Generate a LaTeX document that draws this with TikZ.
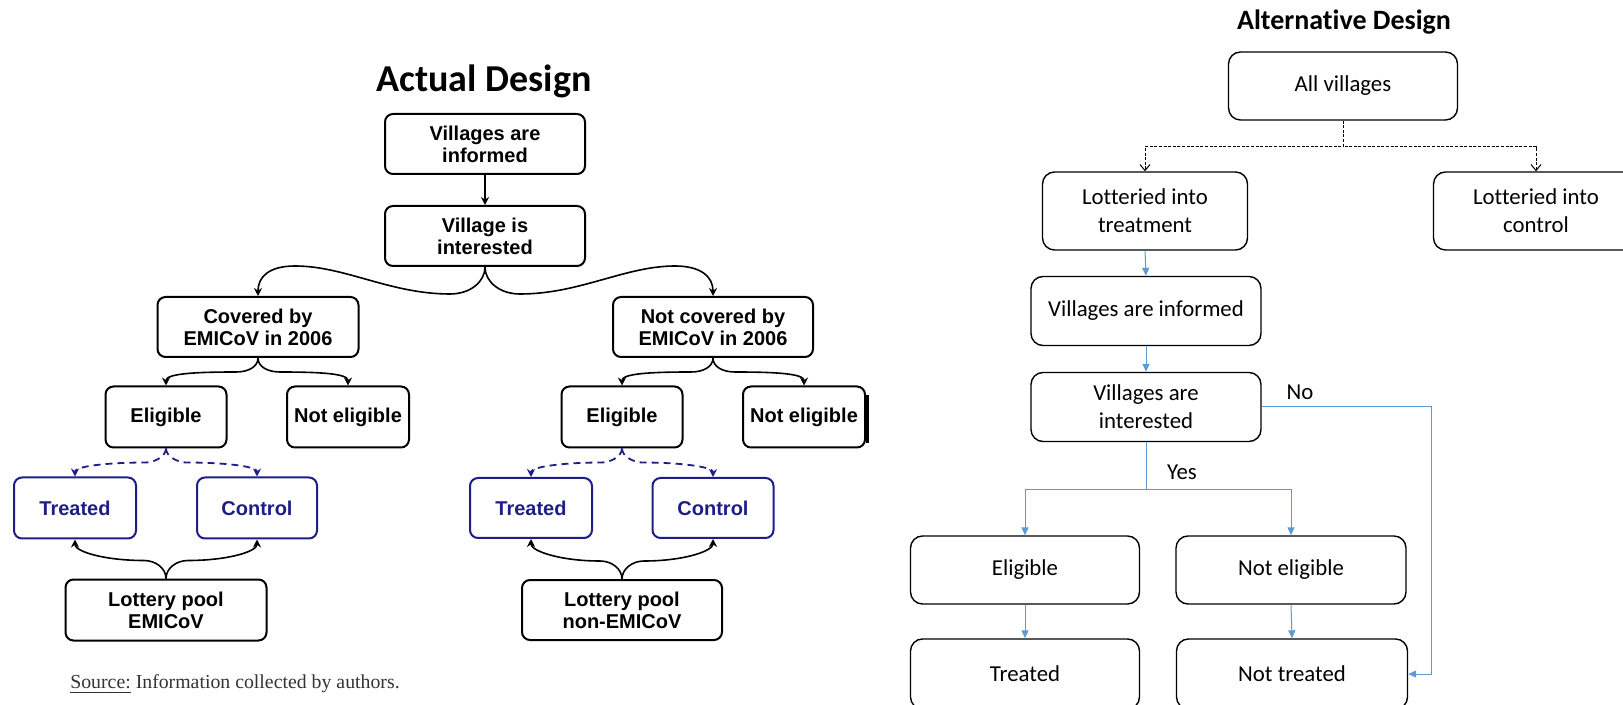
\documentclass[tikz,border=0pt]{standalone}
\usepackage{fontspec}
\usetikzlibrary{arrows.meta}
\newfontfamily\arialf{Liberation Sans}
\newfontfamily\calf{Carlito}[Ligatures=NoCommon]
\newfontfamily\srcf{Liberation Serif}
\definecolor{navyc}{RGB}{30,30,135}
\definecolor{altblue}{RGB}{91,155,213}
\tikzset{
  abox/.style={draw, rounded corners=4pt, line width=1pt, align=center, inner sep=0pt,
    minimum height=30pt, font=\arialf\bfseries\fontsize{10}{11}\selectfont},
  nbox/.style={abox, draw=navyc, text=navyc},
  bconn/.style={line width=0.8pt, -{Stealth[length=4pt,width=4pt]}},
  nconn/.style={line width=0.9pt, navyc, dash pattern=on 3.5pt off 2.5pt, -{Stealth[length=4pt,width=4pt]}},
  cbox/.style={draw, rounded corners=6pt, line width=0.7pt, align=center, inner sep=0pt,
    font=\calf\fontsize{11.4}{14}\selectfont},
  bluearr/.style={altblue, line width=0.5pt, -{Triangle[length=4pt,width=3.5pt]}},
  dasharr/.style={black, line width=0.5pt, dash pattern=on 1.5pt off 0.8pt, -{Straight Barb[length=3pt,width=5pt]}},
  lbl/.style={font=\calf\fontsize{11.4}{14}\selectfont, inner sep=0pt}
}
\begin{document}
\begin{tikzpicture}[x=0.5pt, y=-0.5pt]
\useasboundingbox (0,0) rectangle (1623,705);
% ---------------- Actual design ----------------
\node[font=\calf\bfseries\fontsize{19}{22}\selectfont] (t1) at (484,81) {Actual Design};
\node[abox, minimum width=100pt] (inf) at (485,144) {Villages are\\informed};
\node[abox, minimum width=100pt] (int) at (485,236) {Village is\\interested};
\node[abox, minimum width=100.5pt] (cov) at (258,327) {Covered by\\EMICoV in 2006};
\node[abox, minimum width=100pt] (ncov) at (713,327) {Not covered by\\EMICoV in 2006};
\node[abox, minimum width=60.5pt, minimum height=30.5pt] (elL) at (166,417) {Eligible};
\node[abox, minimum width=61pt, minimum height=30.5pt] (nelL) at (348,417) {Not eligible};
\node[abox, minimum width=60.5pt, minimum height=30.5pt] (elR) at (622,417) {Eligible};
\node[abox, minimum width=61pt, minimum height=30.5pt] (nelR) at (804,417) {Not eligible};
\node[nbox, minimum width=61pt, minimum height=30.5pt] (trL) at (75,508) {Treated};
\node[nbox, minimum width=60pt, minimum height=30.5pt] (ctL) at (257,508) {Control};
\node[nbox, minimum width=61pt, minimum height=30pt] (trR) at (531,508) {Treated};
\node[nbox, minimum width=60.5pt, minimum height=30pt] (ctR) at (713,508) {Control};
\node[abox, minimum width=100.5pt, minimum height=30.5pt] (lotL) at (166,610) {Lottery pool\\EMICoV};
\node[abox, minimum width=100pt, minimum height=30pt] (lotR) at (622,610) {Lottery pool\\non-EMICoV};
\draw[line width=1.5pt] (nelR.north east) ++(1,10) -- ++(0,48);
\node[font=\srcf\fontsize{9.9}{12}\selectfont, text=black!80] (src) at (235,684) {\underline{Source:} Information collected by authors.};
% connectors
\draw[bconn] (inf.south) -- (int.north);
\draw[bconn] (int.south) .. controls +(0,15) and +(20,0) .. ++(-35,27) .. controls +(-60,0) and +(50,0) .. ++(-155,-28) .. controls +(-25,0) and +(0,-20) .. (cov.north);
\draw[bconn] (int.south) .. controls +(0,15) and +(-20,0) .. ++(35,27) .. controls +(60,0) and +(-50,0) .. ++(155,-28) .. controls +(25,0) and +(0,-20) .. (ncov.north);
\draw[bconn] (cov.south) .. controls +(0,9) and +(12,0) .. ++(-22,14) .. controls +(-40,0) and +(0,-12) .. (elL.north);
\draw[bconn] (cov.south) .. controls +(0,9) and +(-12,0) .. ++(22,14) .. controls +(40,0) and +(0,-12) .. (nelL.north);
\draw[bconn] (ncov.south) .. controls +(0,9) and +(12,0) .. ++(-22,14) .. controls +(-40,0) and +(0,-12) .. (elR.north);
\draw[bconn] (ncov.south) .. controls +(0,9) and +(-12,0) .. ++(22,14) .. controls +(40,0) and +(0,-12) .. (nelR.north);
\draw[nconn] (elL.south) .. controls +(0,8) and +(8,0) .. ++(-20,14) .. controls +(-40,0) and +(0,-10) .. (trL.north);
\draw[nconn] (elL.south) .. controls +(0,8) and +(-8,0) .. ++(20,14) .. controls +(40,0) and +(0,-10) .. (ctL.north);
\draw[nconn] (elR.south) .. controls +(0,8) and +(8,0) .. ++(-20,14) .. controls +(-40,0) and +(0,-10) .. (trR.north);
\draw[nconn] (elR.south) .. controls +(0,8) and +(-8,0) .. ++(20,14) .. controls +(40,0) and +(0,-10) .. (ctR.north);
\draw[bconn] (lotL.north) .. controls +(0,-10) and +(12,0) .. ++(-22,-18) .. controls +(-40,0) and +(0,12) .. (trL.south);
\draw[bconn] (lotL.north) .. controls +(0,-10) and +(-12,0) .. ++(22,-18) .. controls +(40,0) and +(0,12) .. (ctL.south);
\draw[bconn] (lotR.north) .. controls +(0,-10) and +(12,0) .. ++(-22,-18) .. controls +(-40,0) and +(0,12) .. (trR.south);
\draw[bconn] (lotR.north) .. controls +(0,-10) and +(-12,0) .. ++(22,-18) .. controls +(40,0) and +(0,12) .. (ctR.south);
% ---------------- Alternative design ----------------
\node[font=\calf\bfseries\fontsize{14}{17}\selectfont] (t2) at (1344,22) {Alternative Design};
\node[cbox, minimum width=114.5pt, minimum height=34pt] (all) at (1343,86) {All villages};
\node[cbox, minimum width=102.5pt, minimum height=39pt] (ltr) at (1145,211) {Lotteried into\\treatment};
\node[cbox, minimum width=102.5pt, minimum height=39pt] (lct) at (1536,211) {Lotteried into\\control};
\node[cbox, minimum width=115pt, minimum height=34.5pt] (vinf) at (1146,311) {Villages are informed};
\node[cbox, minimum width=115pt, minimum height=34.5pt] (vint) at (1146,407) {Villages are\\interested};
\node[cbox, minimum width=114.5pt, minimum height=34pt] (el) at (1025,570) {Eligible};
\node[cbox, minimum width=115pt, minimum height=34pt] (nel) at (1291,570) {Not eligible};
\node[cbox, minimum width=114.5pt, minimum height=35pt] (tr) at (1025,674) {Treated};
\node[cbox, minimum width=115.5pt, minimum height=35pt] (ntr) at (1292,674) {Not treated};
\node[lbl] (no) at (1300,392) {No};
\node[lbl] (yes) at (1182,472) {Yes};
\draw[dasharr] (all.south) -- ++(0,26) -| (ltr.north);
\draw[dasharr] (all.south) -- ++(0,26) -| (lct.north);
\draw[bluearr] (ltr.south) -- (vinf.north);
\draw[bluearr] (vinf.south) -- (vint.north);
\draw[bluearr] (vint.south) -- ++(0,47) -| (el.north);
\draw[bluearr] (vint.south) -- ++(0,47) -| (nel.north);
\draw[bluearr] (vint.east) -- ++(170,0) |- (ntr.east);
\draw[bluearr] (el.south) -- (tr.north);
\draw[bluearr] (nel.south) -- (ntr.north);
\end{tikzpicture}
\end{document}
